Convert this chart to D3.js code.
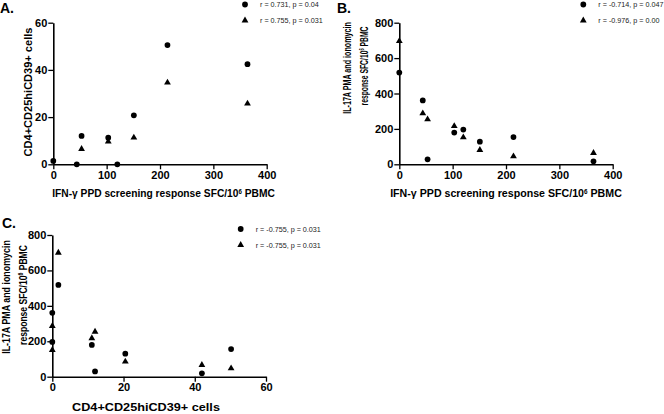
<!DOCTYPE html>
<html><head><meta charset="utf-8">
<script src="https://cdn.jsdelivr.net/npm/d3@7"></script>
<style>
html,body{margin:0;padding:0;background:#fff;}
svg{display:block;font-family:"Liberation Sans",Arial,sans-serif;}
</style></head>
<body>
<svg id="chart" width="664" height="414"></svg>
<script>
// ---- data ----
const ifnA = [0, 44, 53, 103, 120, 151, 214, 364];
const cd4Circles = [1.4, 0, 12, 11.3, 0, 20.75, 50.5, 42.4];
const ifnATri = [53, 103, 151, 214, 364];
const cd4Triangles = [6.5, 9.6, 11.3, 34.6, 25.7];

const ifnB = [0, 44, 53, 103, 120, 151, 214, 364];
const il17Circles = [518, 361, 28, 179, 196, 128, 154, 17];
const il17Triangles = [696, 288, 254, 216, 152, 81, 45, 64];

const cd4C = [1.7, 0, 12, 11.1, 0, 20.5, 50.2, 42];
const il17CCircles = [518, 361, 30, 179, 196, 130, 156, 19];
const cd4CTri = [1.7, 0, 12, 11.1, 0, 20.5, 50.2, 42];
const il17CTriangles = [700, 286, 254, 217, 151, 85, 47, 66];

const ticksA_x = [0, 100, 200, 300, 400];
const ticksA_y = [0, 20, 40, 60];
const ticksB_y = [0, 200, 400, 600, 800];
const ticksC_x = [0, 20, 40, 60];

const legendA = ["r = 0.731, p = 0.04", "r = 0.755, p = 0.031"];
const legendB = ["r = -0.714, p = 0.047", "r = -0.976, p = 0.00"];
const legendC = ["r = -0.755, p = 0.031", "r = -0.755, p = 0.031"];

// ---- drawing ----
const svg = d3.select("#chart");
const circleSym = d3.symbol().type(d3.symbolCircle).size(26);
const triSym = d3.symbol().type(d3.symbolTriangle).size(20);

function fitText(g, parts, target, size, weight) {
  const t = g.append("text").attr("x", 0).attr("y", 0)
    .attr("text-anchor", "middle").attr("font-size", size)
    .attr("font-weight", weight).attr("fill", "#000");
  parts.forEach(p => {
    const ts = t.append("tspan").text(p.t);
    if (p.sup) ts.attr("baseline-shift", "super").attr("font-size", size * 0.6);
  });
  if (target) {
    const w = t.node().getBBox().width;
    t.attr("transform", `scale(${target / w},1)`);
  }
  return t;
}

function panel(o) {
  const x = d3.scaleLinear().domain(o.xDomain).range([o.x0, o.x1]);
  const y = d3.scaleLinear().domain(o.yDomain).range([o.y0, o.y1]);
  const g = svg.append("g");

  const ax = g.append("g").attr("transform", `translate(0,${o.y0})`)
    .call(d3.axisBottom(x).tickValues(o.xTicks).tickSize(5).tickPadding(2).tickSizeOuter(0));
  const ay = g.append("g").attr("transform", `translate(${o.x0},0)`)
    .call(d3.axisLeft(y).tickValues(o.yTicks).tickSize(5).tickPadding(1).tickSizeOuter(0));
  [ax, ay].forEach(a => {
    a.select(".domain").attr("stroke", "#000").attr("stroke-width", 1.6);
    a.selectAll(".tick line").attr("stroke", "#000").attr("stroke-width", 1.3);
    a.selectAll(".tick text").attr("fill", "#000").attr("font-size", 11)
      .attr("font-weight", "bold").attr("font-family", "Liberation Sans, Arial, sans-serif");
  });

  // points
  g.append("g").selectAll("path").data(o.triX.map((v, i) => [v, o.triY[i]]))
    .join("path").attr("d", triSym)
    .attr("transform", d => `translate(${x(d[0])},${y(d[1])})`).attr("fill", "#000");
  g.append("g").selectAll("path").data(o.cirX.map((v, i) => [v, o.cirY[i]]))
    .join("path").attr("d", circleSym)
    .attr("transform", d => `translate(${x(d[0])},${y(d[1])})`).attr("fill", "#000");

  // panel letter
  g.append("text").attr("x", o.letterX).attr("y", o.letterY).text(o.letter)
    .attr("font-size", 14).attr("font-weight", "bold").attr("fill", "#000");

  // x title
  const xt = g.append("g").attr("transform", `translate(${o.xtX},${o.xtY})`);
  fitText(xt, o.xTitle, o.xtW, 11, "bold");

  // y title lines
  o.yTitles.forEach(l => {
    const yt = g.append("g").attr("transform", `translate(${l.x},${l.y}) rotate(-90)`);
    fitText(yt, l.parts, l.w, 11, "bold");
  });

  // legend
  const lg = g.append("g");
  o.legend.forEach((txt, i) => {
    const ly = o.legY + i * 16;
    lg.append("path").attr("d", i === 0 ? circleSym : triSym)
      .attr("transform", `translate(${o.legX},${ly})`).attr("fill", "#000");
    lg.append("text").attr("x", o.legX + 15).attr("y", ly + 2.5).text(txt)
      .attr("font-size", 7.2).attr("fill", "#222");
  });
}

const xTitleIFN = [{t: "IFN-\u03B3 PPD screening response SFC/10"}, {t: "6", sup: true}, {t: " PBMC"}];
const yTitleIL1 = [{t: "IL-17A PMA and ionomycin"}];
const yTitleIL2 = [{t: "response SFC/10"}, {t: "6", sup: true}, {t: " PBMC"}];
const cd4Title = [{t: "CD4+CD25hiCD39+ cells"}];

panel({
  x0: 53.3, x1: 266.7, y0: 164.3, y1: 22.7,
  xDomain: [0, 400], yDomain: [0, 60], xTicks: ticksA_x, yTicks: ticksA_y,
  cirX: ifnA, cirY: cd4Circles, triX: ifnATri, triY: cd4Triangles,
  letter: "A.", letterX: 0, letterY: 13,
  xTitle: xTitleIFN, xtX: 163.5, xtY: 197, xtW: 223,
  yTitles: [{parts: cd4Title, x: 31.5, y: 92, w: 129}],
  legend: legendA, legX: 245, legY: 4.5
});

panel({
  x0: 399.3, x1: 612.7, y0: 164.3, y1: 22.7,
  xDomain: [0, 400], yDomain: [0, 800], xTicks: ticksA_x, yTicks: ticksB_y,
  cirX: ifnB, cirY: il17Circles, triX: ifnB, triY: il17Triangles,
  letter: "B.", letterX: 337, letterY: 13,
  xTitle: xTitleIFN, xtX: 506, xtY: 197, xtW: 232,
  yTitles: [{parts: yTitleIL1, x: 351, y: 68, w: 92}, {parts: yTitleIL2, x: 367.5, y: 66, w: 79}],
  legend: legendB, legX: 583.3, legY: 4.5
});

panel({
  x0: 52.3, x1: 266, y0: 376.7, y1: 235,
  xDomain: [0, 60], yDomain: [0, 800], xTicks: ticksC_x, yTicks: ticksB_y,
  cirX: cd4C, cirY: il17CCircles, triX: cd4CTri, triY: il17CTriangles,
  letter: "C.", letterX: 2, letterY: 228,
  xTitle: cd4Title, xtX: 146, xtY: 411, xtW: 148,
  yTitles: [{parts: yTitleIL1, x: 9.5, y: 297, w: 114}, {parts: yTitleIL2, x: 26.5, y: 295, w: 100}],
  legend: legendC, legX: 240.7, legY: 229
});
</script>
</body></html>
